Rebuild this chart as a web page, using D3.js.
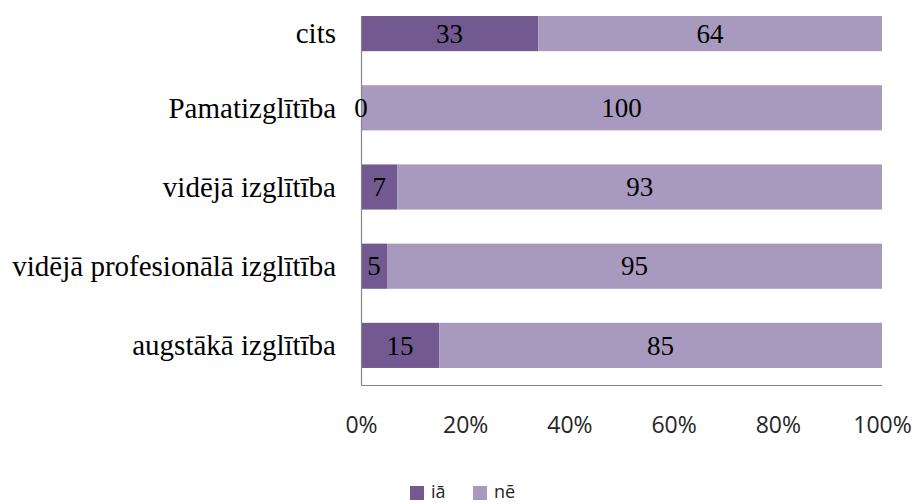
<!DOCTYPE html>
<html>
<head>
<meta charset="utf-8">
<script src="https://cdn.jsdelivr.net/npm/d3@7"></script>
<style>
  body { margin: 0; background: #fff; }
  .cat { font-family: "Liberation Serif", "Times New Roman", serif; font-size: 29px; fill: #000; }
  .val { font-family: "Liberation Serif", "Times New Roman", serif; font-size: 27px; fill: #000; }
  .tick text { font-family: "Open Sans", sans-serif; font-size: 23px; fill: #262626; }
  .legend text { font-family: "Open Sans", sans-serif; font-size: 18px; fill: #262626; }
</style>
</head>
<body>
<div id="chart"></div>
<script>
var svgWidth = 915;
var svgHeight = 504;

// data
var categories = ["cits", "Pamatizglītība", "vidējā izglītība", "vidējā profesionālā izglītība", "augstākā izglītība"];
var seriesNames = ["iā", "nē"];
var jaValues = [33, 0, 7, 5, 15];
var neValues = [64, 100, 93, 95, 85];
var tickValues = [0, 0.2, 0.4, 0.6, 0.8, 1];
var colors = ["#725a91", "#a899bf"];

var plot = { left: 361, right: 882, top: 16, bottom: 385 };

var svg = d3.select("#chart")
  .append("svg")
  .attr("width", svgWidth)
  .attr("height", svgHeight);

// table for stacking, normalised to 100%
var table = categories.map(function (c, i) {
  var total = jaValues[i] + neValues[i];
  return { cat: c, "iā": jaValues[i] / total, "nē": neValues[i] / total, raw: [jaValues[i], neValues[i]] };
});
var stacked = d3.stack().keys(seriesNames)(table);

var x = d3.scaleLinear()
  .domain([0, 1])
  .range([plot.left, plot.right]);

// first band is cut at the top of the plot area
var y = d3.scaleBand()
  .domain(categories)
  .range([-11, plot.bottom])
  .paddingInner(0.43)
  .paddingOuter(0.215);

svg.append("clipPath")
  .attr("id", "plotClip")
  .append("rect")
  .attr("x", plot.left)
  .attr("y", plot.top)
  .attr("width", plot.right - plot.left + 2)
  .attr("height", plot.bottom - plot.top);

var barsGroup = svg.append("g").attr("clip-path", "url(#plotClip)");

stacked.forEach(function (layer, si) {
  barsGroup.selectAll(null)
    .data(layer)
    .enter()
    .append("rect")
    .attr("x", d => x(d[0]))
    .attr("y", d => y(d.data.cat))
    .attr("width", d => x(d[1]) - x(d[0]))
    .attr("height", y.bandwidth())
    .attr("fill", colors[si]);
});

// axes lines
svg.append("line")
  .attr("x1", plot.left + 0.5).attr("x2", plot.left + 0.5)
  .attr("y1", plot.top).attr("y2", plot.bottom + 0.5)
  .attr("stroke", "#868686").attr("stroke-width", 1.2);

svg.append("line")
  .attr("x1", plot.left).attr("x2", plot.right)
  .attr("y1", plot.bottom + 0.5).attr("y2", plot.bottom + 0.5)
  .attr("stroke", "#868686").attr("stroke-width", 1.2);

// value labels
stacked.forEach(function (layer, si) {
  svg.selectAll(null)
    .data(layer)
    .enter()
    .append("text")
    .attr("class", "val")
    .attr("x", d => (x(d[0]) + x(d[1])) / 2)
    .attr("y", d => Math.max(y(d.data.cat), plot.top) / 2 + (y(d.data.cat) + y.bandwidth()) / 2)
    .attr("text-anchor", "middle")
    .attr("dy", "0.34em")
    .text(d => d.data.raw[si]);
});

// category labels
svg.selectAll(null)
  .data(categories)
  .enter()
  .append("text")
  .attr("class", "cat")
  .attr("x", plot.left - 25)
  .attr("y", d => Math.max(y(d), plot.top) / 2 + (y(d) + y.bandwidth()) / 2)
  .attr("text-anchor", "end")
  .attr("dy", "0.34em")
  .text(d => d);

// x axis labels
var bottomAxis = d3.axisBottom(x)
  .tickValues(tickValues)
  .tickFormat(d3.format(".0%"))
  .tickSize(0)
  .tickPadding(32);

var xAxis = svg.append("g")
  .attr("transform", `translate(0, ${plot.bottom})`)
  .call(bottomAxis);
xAxis.select(".domain").remove();

// legend
var legend = svg.append("g").attr("class", "legend");
var legendX = [410, 473];
seriesNames.forEach(function (name, i) {
  legend.append("rect")
    .attr("x", legendX[i])
    .attr("y", 486)
    .attr("width", 14)
    .attr("height", 14)
    .attr("fill", colors[i]);
  legend.append("text")
    .attr("x", legendX[i] + 21)
    .attr("y", 498)
    .text(name);
});
</script>
</body>
</html>
